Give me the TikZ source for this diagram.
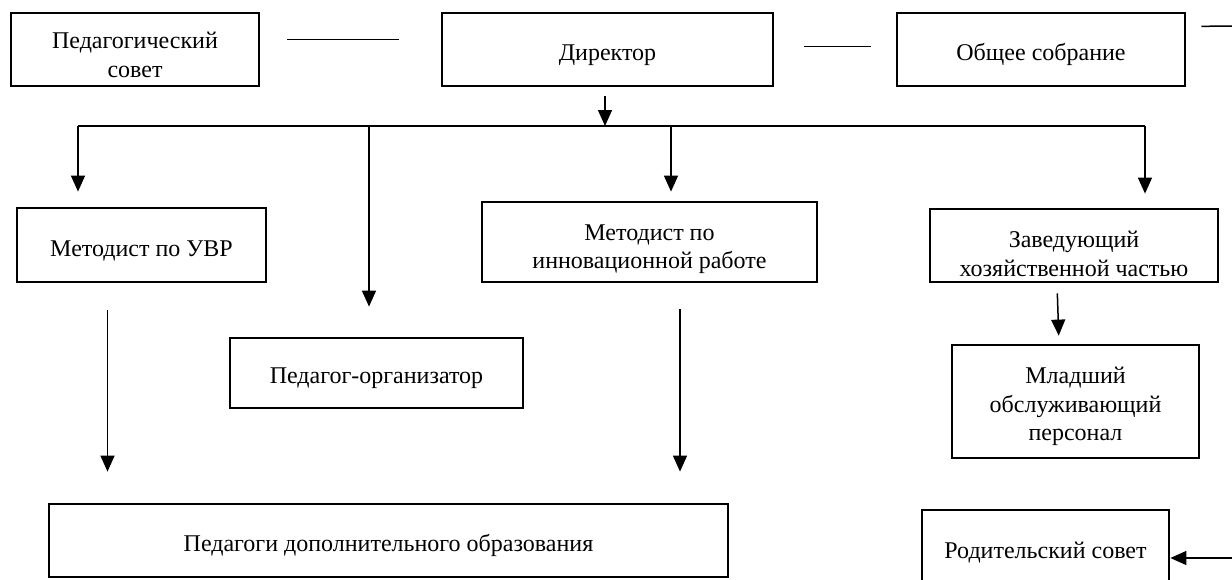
\documentclass[tikz,border=0pt]{standalone}
\usepackage{fontspec}
\setmainfont{Liberation Serif}
\usetikzlibrary{arrows.meta,calc}
\newcommand\orgtxt[2][5.5pt]{\raisebox{-#1}[\height][\depth]{\begin{tabular}{@{}c@{}}#2\end{tabular}}}
\begin{document}
\begin{tikzpicture}[x=1pt,y=-1pt,
  orgbox/.style={draw,line width=2.8pt,inner sep=0pt,
    font=\fontsize{24}{28.5}\selectfont},
  conn/.style={line width=1.5pt},
  arr/.style={conn,-{Triangle[width=14pt,length=16pt]}}]
\useasboundingbox (0,0) rectangle (1232,579);
% boxes
\node[orgbox,minimum width=248pt,minimum height=73pt] (ps) at (135,49.5) {\orgtxt[8pt]{Педагогический\\совет}};
\node[orgbox,minimum width=331pt,minimum height=73pt] (dir) at (607.5,49.5) {\orgtxt[5.5pt]{Директор}};
\node[orgbox,minimum width=288pt,minimum height=73pt] (os) at (1041,49.5) {\orgtxt[5.5pt]{Общее собрание}};
\node[orgbox,minimum width=249pt,minimum height=74pt] (uvr) at (141.5,245) {\orgtxt[6pt]{Методист по УВР}};
\node[orgbox,minimum width=293pt,minimum height=70pt] (po) at (376.5,373) {\orgtxt[5pt]{Педагог-организатор}};
\node[orgbox,minimum width=335pt,minimum height=80pt] (mi) at (649.5,242) {\orgtxt[7pt]{Методист по\\инновационной работе}};
\node[orgbox,minimum width=288pt,minimum height=73pt] (zh) at (1074,245.5) {\orgtxt[11pt]{Заведующий\\хозяйственной частью}};
\node[orgbox,minimum width=247pt,minimum height=113pt] (ml) at (1075.5,401.5) {\orgtxt[5pt]{Младший\\обслуживающий\\персонал}};
\node[orgbox,minimum width=679pt,minimum height=73pt] (pdo) at (388.5,540.5) {\orgtxt[5pt]{Педагоги дополнительного образования}};
\node[orgbox,minimum width=247pt,minimum height=80pt] (rs) at (1045.5,550) {\orgtxt[3pt]{Родительский совет}};
% coordinates
\coordinate (busL) at (78,126);
\coordinate (busR) at (1145,126);
\coordinate (b2) at (369,126);
\coordinate (b3) at (671,126);
\coordinate (tr) at (1232,26);
\coordinate (rsin) at (1232,558);
% top lines
\draw[conn,shorten <=27pt,shorten >=42pt] ([yshift=10pt]ps.east) -- ([yshift=10pt]dir.west);
\draw[conn,shorten <=30pt,shorten >=25pt] ([yshift=3pt]dir.east) -- ([yshift=3pt]os.west);
\draw[conn,shorten <=15pt] ([yshift=23pt]os.east) -- (tr);
% director to bus
\draw[arr,shorten <=9pt] ([xshift=-2.5pt]dir.south) -- ([xshift=-2.5pt]dir.south |- busL);
\draw[conn] (busL) -- (busR);
% drops
\draw[arr,shorten >=15pt] (busL) -- (busL |- uvr.north);
\draw[arr,shorten >=30pt] (b2) -- (b2 |- po.north);
\draw[arr,shorten >=9pt] (b3) -- (b3 |- mi.north);
\draw[arr,shorten >=14pt] (busR) -- (busR |- zh.north);
% lower arrows
\draw[arr,shorten <=27pt,shorten >=31pt] ([xshift=-34pt]uvr.south) -- ([xshift=-34pt]uvr.south |- pdo.north);
\draw[arr,shorten <=26pt,shorten >=31pt] ([xshift=30.5pt]mi.south) -- ([xshift=30.5pt]mi.south |- pdo.north);
\draw[arr,shorten <=10pt,shorten >=8pt] ([xshift=-17pt]zh.south) -- ([xshift=-16.5pt]ml.north);
\draw[arr] (rsin) -- (rs.east |- rsin);
\end{tikzpicture}
\end{document}
